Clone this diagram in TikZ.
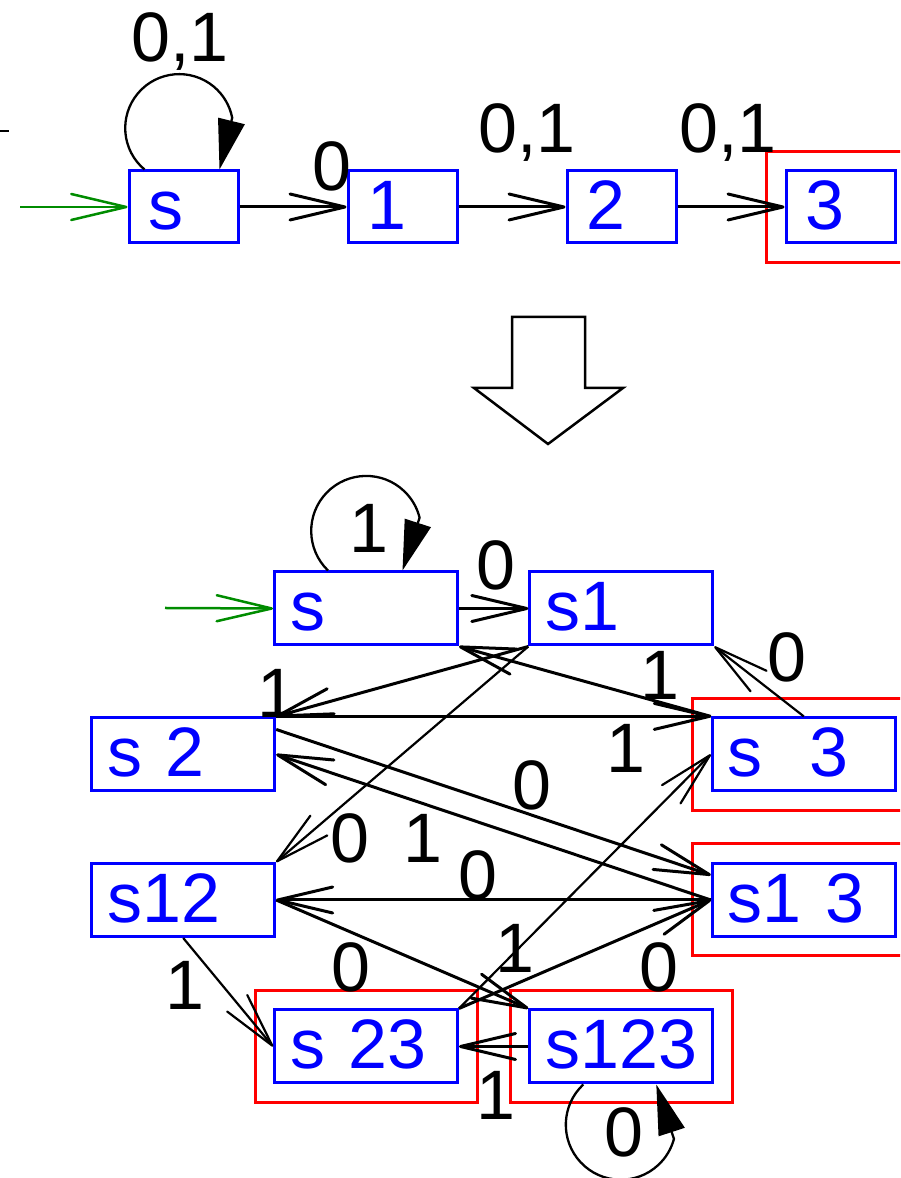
\documentclass[tikz,border=0pt]{standalone}
\usepackage{fontspec}
\setmainfont{Liberation Sans}
\usetikzlibrary{arrows.meta}
\definecolor{startgreen}{RGB}{0,140,0}

\begin{document}
\begin{tikzpicture}[x=1pt,y=1pt,
    big/.style={font=\fontsize{70pt}{80pt}\selectfont},
    nstate/.style={big, draw=blue, text=blue, line width=3pt, align=left,
      inner ysep=0pt, text height=50pt, text depth=5pt,
      minimum height=72pt, inner xsep=19pt, text width=71pt},
    dstate/.style={nstate, minimum height=73pt, inner xsep=15.5pt, text width=152pt},
    final/.style={draw=red, line width=3pt},
    edge/.style={line width=3pt, -{Straight Barb[length=55pt,width=26pt,round]}},
    sedge/.style={edge, line width=2.2pt},
    start/.style={edge, line width=2.5pt, draw=startgreen},
    loopline/.style={line width=2.3pt, -{Triangle[length=50pt,width=27pt]}},
    lbl/.style={big, inner sep=0pt, anchor=base}]
    \useasboundingbox (0,0) rectangle (900,1178);
    \clip (0,0) rectangle (900,1178);

    % NFA oben
    \node[nstate] (qs) at (183.5,971) {s};
    \node[nstate] (q1) at (402.5,971) {1};
    \node[nstate] (q2) at (621.5,971) {2};
    \node[nstate] (q3) at (840.5,971) {3};
    \draw[final] ([shift={(-18pt,-18pt)}]q3.south west) rectangle ([shift={(18pt,18pt)}]q3.north east);
    \coordinate (qin) at (20,971);
    \draw[start] (qin) -- (qs.west);
    \draw[edge] (qs.east) -- (q1.west);
    \draw[edge] (q1.east) -- (q2.west);
    \draw[edge] (q2.east) -- (q3.west);
    \draw[loopline] ([xshift=17pt]qs.north west) arc[start angle=230, end angle=11, radius=54]
      -- ([xshift=92pt]qs.north west);
    \node[lbl] (l1) at (180,1116) {0,1};
    \node[lbl] (l2) at (332,987) {0};
    \node[lbl] (l3) at (527,1025) {0,1};
    \node[lbl] (l4) at (728,1025) {0,1};
    \draw[line width=2.5pt] (0,1047) -- (9,1047);

    % Pfeil nach unten
    \draw[line width=2.5pt] (512,861) -- (585,861) -- (585,790) -- (623,790)
      -- (548,734) -- (474,790) -- (512,790) -- cycle;

    % DFA unten
    \node[dstate] (bs) at (366,569.5) {s};
    \node[dstate] (bs1) at (621.3,569.5) {s1};
    \node[dstate] (bs2) at (183.2,423.6) {s 2};
    \node[dstate] (bs3) at (803.8,423.6) {s\ \ 3};
    \node[dstate] (bs12) at (183.2,278) {s12};
    \node[dstate] (bs13) at (803.8,278) {s1 3};
    \node[dstate] (bs23) at (366,131.5) {s 23};
    \node[dstate] (bs123) at (621.3,131.5) {s123};
    \foreach \n in {bs3,bs13,bs23,bs123}
      \draw[final] ([shift={(-18pt,-18pt)}]\n.south west) rectangle ([shift={(18pt,18pt)}]\n.north east);

    \coordinate (bin) at (165,570);
    \draw[start] (bin) -- (bs.west);
    \draw[edge] (bs.east) -- (bs1.west);
    \draw[edge] (bs1.south west) -- (bs2.north east);
    \draw[sedge] (bs1.south west) -- (bs12.north east);
    \draw[edge] (bs2.north east) -- (bs3.north west);
    \draw[edge] (bs2.15) -- (bs13.165);
    \draw[sedge] (bs3.north) -- (bs1.south east);
    \draw[edge] (bs3.north west) -- (bs.south east);
    \draw[edge] (bs13.west) -- (bs12.east);
    \draw[edge] (bs13.west) -- (bs2.east);
    \draw[edge] (bs12.east) -- (bs123.north west);
    \draw[sedge] (bs12.south) -- (bs23.west);
    \draw[sedge] (bs23.north east) -- (bs3.west);
    \draw[edge] (bs23.north east) -- (bs13.west);
    \draw[edge] (bs123.west) -- (bs23.east);
    \draw[loopline] ([xshift=55pt]bs.north west) arc[start angle=226, end angle=14, radius=55]
      -- ([xshift=129.5pt]bs.north west);
    \draw[loopline] ([xshift=55pt]bs123.south west) arc[start angle=133, end angle=345, radius=55]
      -- ([xshift=128pt]bs123.south west);

    \node[lbl] (l5) at (369,625) {1};
    \node[lbl] (l6) at (496,588) {0};
    \node[lbl] (l7) at (786.5,496) {0};
    \node[lbl] (l8) at (660,478) {1};
    \node[lbl] (l9) at (277,460) {1};
    \node[lbl] (l10) at (625.5,405) {1};
    \node[lbl] (l11) at (531.5,368) {0};
    \node[lbl] (l12) at (349.6,315) {0};
    \node[lbl] (l13) at (423,315) {1};
    \node[lbl] (l14) at (478,278) {0};
    \node[lbl] (l15) at (350.7,186) {0};
    \node[lbl] (l16) at (514.5,205) {1};
    \node[lbl] (l17) at (659,186) {0};
    \node[lbl] (l18) at (185,168) {1};
    \node[lbl] (l19) at (496,58) {1};
    \node[lbl] (l20) at (624,21) {0};
\end{tikzpicture}
\end{document}
